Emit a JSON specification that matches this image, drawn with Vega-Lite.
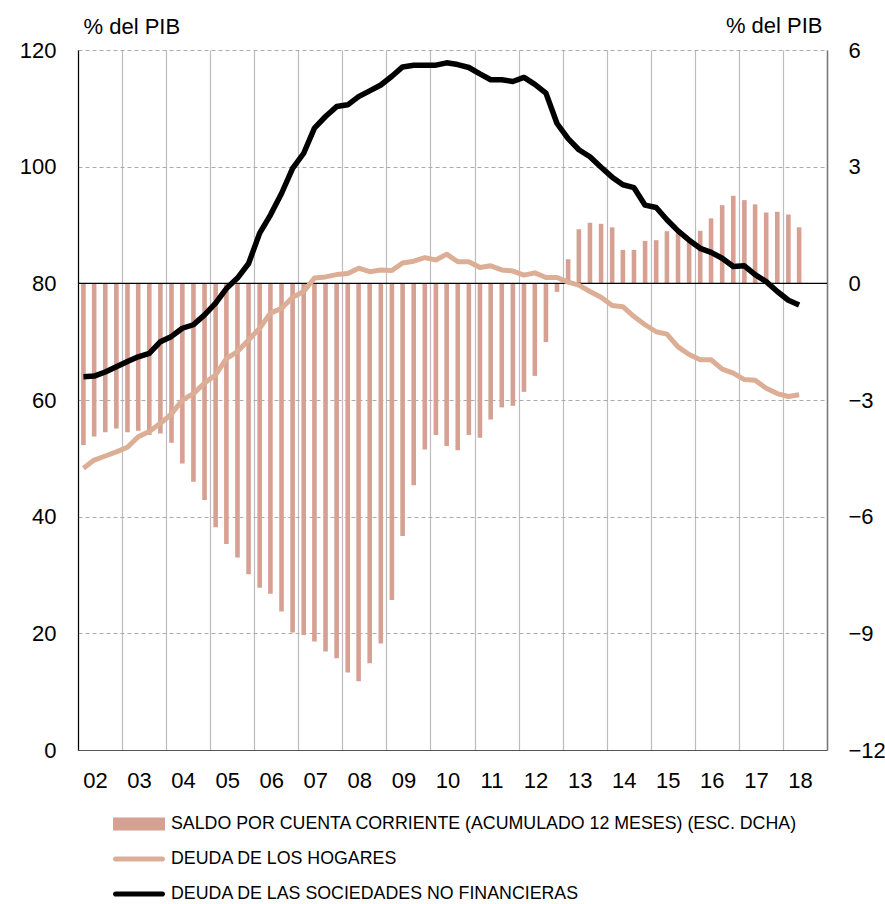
{
  "$schema": "https://vega.github.io/schema/vega-lite/v6.json",
  "width": 749,
  "height": 700,
  "autosize": {"type": "none"},
  "padding": {"left": 78, "top": 50, "right": 58, "bottom": 154},
  "background": "white",
  "config": {
    "font": "Liberation Sans",
    "view": {"stroke": null},
    "axis": {"labelColor": "#000", "titleColor": "#000", "labelFontSize": 22, "titleFontSize": 22, "titleFontWeight": "normal", "labelFont": "Liberation Sans", "titleFont": "Liberation Sans"}
  },
  "data": {"values": [
    {"date": "2002-02-15", "ca": -4.16, "hh": 48.3, "nfc": 64.0},
    {"date": "2002-05-15", "ca": -3.94, "hh": 49.7, "nfc": 64.1},
    {"date": "2002-08-15", "ca": -3.83, "hh": 50.4, "nfc": 64.8},
    {"date": "2002-11-15", "ca": -3.73, "hh": 51.1, "nfc": 65.7},
    {"date": "2003-02-15", "ca": -3.83, "hh": 51.9, "nfc": 66.6},
    {"date": "2003-05-15", "ca": -3.79, "hh": 53.7, "nfc": 67.4},
    {"date": "2003-08-15", "ca": -3.90, "hh": 54.6, "nfc": 68.0},
    {"date": "2003-11-15", "ca": -3.86, "hh": 56.0, "nfc": 70.0},
    {"date": "2004-02-15", "ca": -4.10, "hh": 57.6, "nfc": 70.9},
    {"date": "2004-05-15", "ca": -4.63, "hh": 60.0, "nfc": 72.3},
    {"date": "2004-08-15", "ca": -5.10, "hh": 61.1, "nfc": 72.9},
    {"date": "2004-11-15", "ca": -5.57, "hh": 62.9, "nfc": 74.6},
    {"date": "2005-02-15", "ca": -6.27, "hh": 64.3, "nfc": 76.6},
    {"date": "2005-05-15", "ca": -6.70, "hh": 67.1, "nfc": 79.1},
    {"date": "2005-08-15", "ca": -7.05, "hh": 68.3, "nfc": 80.9},
    {"date": "2005-11-15", "ca": -7.48, "hh": 70.3, "nfc": 83.4},
    {"date": "2006-02-15", "ca": -7.83, "hh": 72.3, "nfc": 88.6},
    {"date": "2006-05-15", "ca": -7.98, "hh": 74.9, "nfc": 91.7},
    {"date": "2006-08-15", "ca": -8.44, "hh": 75.7, "nfc": 95.4},
    {"date": "2006-11-15", "ca": -8.98, "hh": 77.6, "nfc": 99.7},
    {"date": "2007-02-15", "ca": -9.04, "hh": 78.6, "nfc": 102.3},
    {"date": "2007-05-15", "ca": -9.21, "hh": 80.9, "nfc": 106.6},
    {"date": "2007-08-15", "ca": -9.47, "hh": 81.1, "nfc": 108.6},
    {"date": "2007-11-15", "ca": -9.64, "hh": 81.5, "nfc": 110.3},
    {"date": "2008-02-15", "ca": -10.01, "hh": 81.7, "nfc": 110.6},
    {"date": "2008-05-15", "ca": -10.23, "hh": 82.6, "nfc": 112.0},
    {"date": "2008-08-15", "ca": -9.77, "hh": 82.0, "nfc": 113.0},
    {"date": "2008-11-15", "ca": -9.26, "hh": 82.3, "nfc": 114.0},
    {"date": "2009-02-15", "ca": -8.14, "hh": 82.2, "nfc": 115.5},
    {"date": "2009-05-15", "ca": -6.50, "hh": 83.5, "nfc": 117.1},
    {"date": "2009-08-15", "ca": -5.19, "hh": 83.8, "nfc": 117.4},
    {"date": "2009-11-15", "ca": -4.27, "hh": 84.4, "nfc": 117.4},
    {"date": "2010-02-15", "ca": -3.90, "hh": 84.0, "nfc": 117.4},
    {"date": "2010-05-15", "ca": -4.18, "hh": 85.0, "nfc": 117.8},
    {"date": "2010-08-15", "ca": -4.29, "hh": 83.7, "nfc": 117.5},
    {"date": "2010-11-15", "ca": -3.90, "hh": 83.7, "nfc": 117.0},
    {"date": "2011-02-15", "ca": -3.97, "hh": 82.7, "nfc": 115.9},
    {"date": "2011-05-15", "ca": -3.50, "hh": 83.0, "nfc": 114.9},
    {"date": "2011-08-15", "ca": -3.19, "hh": 82.3, "nfc": 114.9},
    {"date": "2011-11-15", "ca": -3.15, "hh": 82.1, "nfc": 114.6},
    {"date": "2012-02-15", "ca": -2.79, "hh": 81.4, "nfc": 115.3},
    {"date": "2012-05-15", "ca": -2.38, "hh": 81.8, "nfc": 114.1},
    {"date": "2012-08-15", "ca": -1.51, "hh": 81.0, "nfc": 112.6},
    {"date": "2012-11-15", "ca": -0.22, "hh": 81.0, "nfc": 107.4},
    {"date": "2013-02-15", "ca": 0.62, "hh": 80.2, "nfc": 104.8},
    {"date": "2013-05-15", "ca": 1.39, "hh": 79.7, "nfc": 102.9},
    {"date": "2013-08-15", "ca": 1.56, "hh": 78.6, "nfc": 101.7},
    {"date": "2013-11-15", "ca": 1.53, "hh": 77.6, "nfc": 99.9},
    {"date": "2014-02-15", "ca": 1.44, "hh": 76.2, "nfc": 98.2},
    {"date": "2014-05-15", "ca": 0.86, "hh": 76.0, "nfc": 96.9},
    {"date": "2014-08-15", "ca": 0.86, "hh": 74.3, "nfc": 96.4},
    {"date": "2014-11-15", "ca": 1.09, "hh": 72.9, "nfc": 93.4},
    {"date": "2015-02-15", "ca": 1.11, "hh": 71.7, "nfc": 93.0},
    {"date": "2015-05-15", "ca": 1.34, "hh": 71.3, "nfc": 90.9},
    {"date": "2015-08-15", "ca": 1.29, "hh": 69.1, "nfc": 89.0},
    {"date": "2015-11-15", "ca": 1.15, "hh": 67.8, "nfc": 87.4},
    {"date": "2016-02-15", "ca": 1.35, "hh": 66.9, "nfc": 86.0},
    {"date": "2016-05-15", "ca": 1.67, "hh": 66.9, "nfc": 85.3},
    {"date": "2016-08-15", "ca": 2.01, "hh": 65.3, "nfc": 84.3},
    {"date": "2016-11-15", "ca": 2.25, "hh": 64.6, "nfc": 82.9},
    {"date": "2017-02-15", "ca": 2.14, "hh": 63.5, "nfc": 83.0},
    {"date": "2017-05-15", "ca": 2.03, "hh": 63.4, "nfc": 81.5},
    {"date": "2017-08-15", "ca": 1.82, "hh": 62.0, "nfc": 80.3},
    {"date": "2017-11-15", "ca": 1.84, "hh": 61.1, "nfc": 78.6},
    {"date": "2018-02-15", "ca": 1.77, "hh": 60.6, "nfc": 77.1},
    {"date": "2018-05-15", "ca": 1.44, "hh": 60.9, "nfc": 76.3}
  ]},
  "layer": [
    {
      "mark": {"type": "bar", "width": 4.6, "color": "#d6a093"},
      "encoding": {
        "x": {
          "field": "date", "type": "temporal",
          "scale": {"type": "utc", "domain": [{"year": 2002, "month": 1, "date": 1, "utc": true}, {"year": 2019, "month": 1, "date": 1, "utc": true}], "nice": false, "padding": 0},
          "axis": {
            "title": null,
            "values": [
              {"year": 2002, "utc": true}, {"year": 2003, "utc": true}, {"year": 2004, "utc": true}, {"year": 2005, "utc": true},
              {"year": 2006, "utc": true}, {"year": 2007, "utc": true}, {"year": 2008, "utc": true}, {"year": 2009, "utc": true},
              {"year": 2010, "utc": true}, {"year": 2011, "utc": true}, {"year": 2012, "utc": true}, {"year": 2013, "utc": true},
              {"year": 2014, "utc": true}, {"year": 2015, "utc": true}, {"year": 2016, "utc": true}, {"year": 2017, "utc": true},
              {"year": 2018, "utc": true}, {"year": 2019, "utc": true}
            ],
            "labelExpr": "utcyear(datum.value) >= 2019 ? '' : utcFormat(datum.value, '%y')",
            "labelOffset": 17,
            "labelAlign": "center",
            "labelPadding": 20,
            "labelBaseline": "top",
            "grid": true, "gridColor": "#bcbcbc", "gridWidth": 1.2,
            "ticks": false,
            "domainColor": "#555", "domainWidth": 1.2,
            "labelFlush": false, "labelOverlap": false
          }
        },
        "y": {
          "field": "ca", "type": "quantitative",
          "scale": {"domain": [-12, 6], "nice": false, "zero": false},
          "axis": {
            "orient": "right",
            "values": [-12, -9, -6, -3, 0, 3, 6],
            "grid": false,
            "ticks": false,
            "labelPadding": 21,
            "labelAlign": "left",
            "domainColor": "#777", "domainWidth": 1.5,
            "title": "% del PIB",
            "titleAngle": 0, "titleAlign": "right", "titleBaseline": "alphabetic",
            "titleX": -5, "titleY": -18
          }
        },
        "y2": {"datum": 0},
        "color": {
          "datum": "SALDO POR CUENTA CORRIENTE (ACUMULADO 12 MESES) (ESC. DCHA)",
          "scale": {
            "domain": ["SALDO POR CUENTA CORRIENTE (ACUMULADO 12 MESES) (ESC. DCHA)", "DEUDA DE LOS HOGARES", "DEUDA DE LAS SOCIEDADES NO FINANCIERAS"],
            "range": ["#d6a093", "#dcae96", "#000000"]
          },
          "legend": {
            "orient": "none",
            "legendX": 35,
            "legendY": 748,
            "title": null,
            "padding": 0,
            "symbolType": "M-1,-0.25H1V0.25H-1Z",
            "symbolSize": 2704,
            "labelFont": "Liberation Sans",
            "labelFontSize": 17.8,
            "labelColor": "#000",
            "labelOffset": 6,
            "labelLimit": 2000,
            "rowPadding": -2,
            "encode": {
              "symbols": {
                "update": {
                  "shape": {"signal": "datum.value === 'SALDO POR CUENTA CORRIENTE (ACUMULADO 12 MESES) (ESC. DCHA)' ? 'M-1,-0.25H1V0.25H-1Z' : 'M-0.9,-0.1H0.9A0.1,0.1,0,0,1,0.9,0.1H-0.9A0.1,0.1,0,0,1,-0.9,-0.1Z'"},
                  "fill": {"scale": "color", "field": "value"},
                  "fillOpacity": {"value": 1},
                  "strokeWidth": {"value": 0},
                  "opacity": {"value": 1}
                }
              }
            }
          }
        }
      }
    },
    {
      "layer": [
        {
          "data": {"values": [{}]},
          "mark": {"type": "rule", "color": "#000", "strokeWidth": 1.2},
          "encoding": {"y": {"datum": 80, "type": "quantitative"}}
        },
        {
          "mark": {"type": "line", "strokeWidth": 5, "strokeJoin": "round"},
          "encoding": {
            "x": {"field": "date", "type": "temporal"},
            "y": {
              "field": "hh", "type": "quantitative",
              "scale": {"domain": [0, 120], "nice": false},
              "axis": {
                "orient": "left",
                "values": [0, 20, 40, 60, 80, 100, 120],
                "grid": true, "gridColor": "#aaaaaa", "gridDash": [4, 3], "gridWidth": 1,
                "ticks": false,
                "labelPadding": 22,
                "domainColor": "#000", "domainWidth": 1.2,
                "title": "% del PIB",
                "titleAngle": 0, "titleAlign": "left", "titleBaseline": "alphabetic",
                "titleX": 5, "titleY": -17
              }
            },
            "color": {"datum": "DEUDA DE LOS HOGARES"}
          }
        },
        {
          "mark": {"type": "line", "strokeWidth": 5.5, "strokeJoin": "round"},
          "encoding": {
            "x": {"field": "date", "type": "temporal"},
            "y": {"field": "nfc", "type": "quantitative"},
            "color": {"datum": "DEUDA DE LAS SOCIEDADES NO FINANCIERAS"}
          }
        }
      ]
    }
  ],
  "resolve": {"scale": {"y": "independent"}}
}
